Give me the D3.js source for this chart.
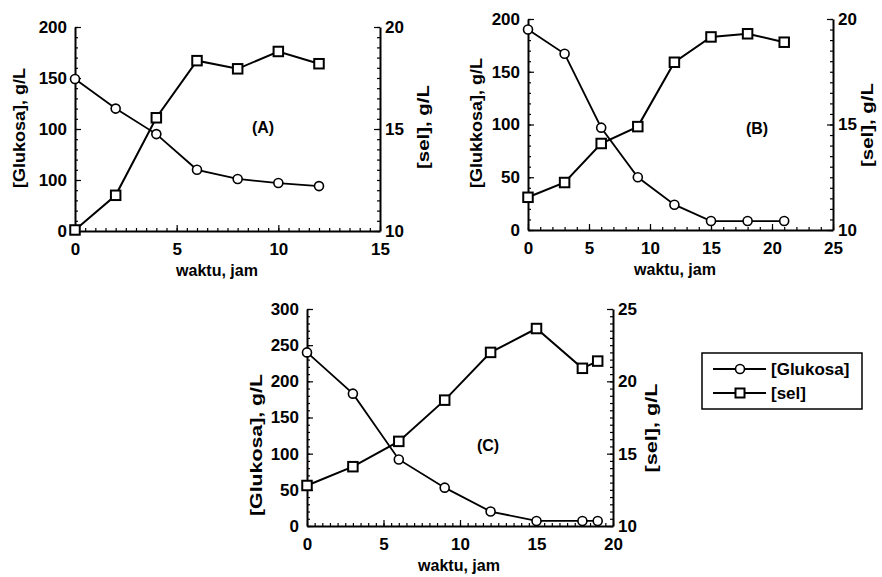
<!DOCTYPE html>
<html><head><meta charset="utf-8">
<script src="https://cdn.jsdelivr.net/npm/d3@7"></script>
<style>
body{margin:0;background:#fff}
svg text{font-family:"Liberation Sans",Arial,sans-serif;font-weight:bold;fill:#000}
</style>
</head><body>
<svg id="chart" width="882" height="577"></svg>
<script>
// ---- Data ----
const timeA = [0, 2, 4, 6, 8, 10, 12];
const glukosaA = [149, 120, 95, 60, 51, 47, 44];
const selA = [10.05, 11.75, 15.55, 18.35, 17.95, 18.8, 18.2];

const timeB = [0, 3, 6, 9, 12, 15, 18, 21];
const glukosaB = [190, 167, 97, 50, 24, 8.5, 8.5, 8.5];
const selB = [11.55, 12.25, 14.1, 14.9, 17.95, 19.15, 19.3, 18.9];

const timeC = [0, 3, 6, 9, 12, 15, 18, 19];
const glukosaC = [240, 183, 92, 53, 20, 7, 7, 7];
const selC = [12.8, 14.1, 15.85, 18.7, 22.0, 23.65, 20.9, 21.4];

// tick values / labels
const xTicksA = [0, 5, 10, 15];
const xTicksB = [0, 5, 10, 15, 20, 25];
const xTicksC = [0, 5, 10, 15, 20];
const yTicksA = [0, 50, 100, 150, 200];
const yTickLabelsA = ["0", "100", "100", "150", "200"];
const yTicksB = [0, 50, 100, 150, 200];
const yTickLabelsB = ["0", "50", "100", "150", "200"];
const yTicksC = [0, 50, 100, 150, 200, 250, 300];
const yTickLabelsC = ["0", "50", "100", "150", "200", "250", "300"];
const y2TicksAB = [10, 15, 20];
const y2TicksC = [10, 15, 20, 25];

const panelLabels = ["(A)", "(B)", "(C)"];
const legendLabels = ["[Glukosa]", "[sel]"];
const xTitle = "waktu, jam";
const yTitles = ["[Glukosa], g/L", "[Glukkosa], g/L", "[Glukosa], g/L"];
const y2Title = "[sel], g/L";

// ---- Layout ----
const panels = [
  {t: timeA, g: glukosaA, s: selA, xDom: [0, 15], yDom: [0, 200], y2Dom: [10, 20],
   xT: xTicksA, xMinor: 0.5, yT: yTicksA, yL: yTickLabelsA, yMinor: 10, y2T: y2TicksAB, y2Minor: 0.5,
   x0: 75, x1: 380, yTop: 27, yBot: 231, label: panelLabels[0], lx: 263, ly: 133,
   xtx: 217, ytitle: yTitles[0], ytX: 25, ytY: 128, ytLen: 120, y2X: 429, y2Y: 127, y2Len: 84},
  {t: timeB, g: glukosaB, s: selB, xDom: [0, 25], yDom: [0, 200], y2Dom: [10, 20],
   xT: xTicksB, xMinor: 1, yT: yTicksB, yL: yTickLabelsB, yMinor: 10, y2T: y2TicksAB, y2Minor: 0.5,
   x0: 528, x1: 833, yTop: 19, yBot: 230, label: panelLabels[1], lx: 757, ly: 134,
   xtx: 675, ytitle: yTitles[1], ytX: 482, ytY: 123, ytLen: 130, y2X: 873, y2Y: 125, y2Len: 84},
  {t: timeC, g: glukosaC, s: selC, xDom: [0, 20], yDom: [0, 300], y2Dom: [10, 25],
   xT: xTicksC, xMinor: 0.5, yT: yTicksC, yL: yTickLabelsC, yMinor: 10, y2T: y2TicksC, y2Minor: 0.5,
   x0: 307, x1: 613, yTop: 309, yBot: 526, label: panelLabels[2], lx: 488, ly: 451,
   xtx: 459, ytitle: yTitles[2], ytX: 262, ytY: 445, ytLen: 142, y2X: 657, y2Y: 428, y2Len: 89}
];

const svg = d3.select("#chart");
const FS = 17;

function minorVals(dom, step) {
  return d3.range(dom[0], dom[1] + step / 2, step);
}

panels.forEach(p => {
  const x = d3.scaleLinear().domain(p.xDom).range([p.x0, p.x1]);
  const y = d3.scaleLinear().domain(p.yDom).range([p.yBot, p.yTop]);
  const y2 = d3.scaleLinear().domain(p.y2Dom).range([p.yBot, p.yTop]);
  const g = svg.append("g");

  // minor ticks
  g.append("g").attr("transform", `translate(0,${p.yBot})`)
    .call(d3.axisBottom(x).tickValues(minorVals(p.xDom, p.xMinor)).tickSizeInner(-3).tickSizeOuter(0).tickFormat(""))
    .call(a => a.select(".domain").remove());
  g.append("g").attr("transform", `translate(${p.x0},0)`)
    .call(d3.axisLeft(y).tickValues(minorVals(p.yDom, p.yMinor)).tickSizeInner(-3).tickSizeOuter(0).tickFormat(""))
    .call(a => a.select(".domain").remove());
  g.append("g").attr("transform", `translate(${p.x1},0)`)
    .call(d3.axisRight(y2).tickValues(minorVals(p.y2Dom, p.y2Minor)).tickSizeInner(-3).tickSizeOuter(0).tickFormat(""))
    .call(a => a.select(".domain").remove());

  // major axes
  g.append("g").attr("transform", `translate(0,${p.yBot})`)
    .call(d3.axisBottom(x).tickValues(p.xT).tickSizeInner(-6).tickSizeOuter(0).tickPadding(12).tickFormat(d3.format("d")));
  g.append("g").attr("transform", `translate(${p.x0},0)`)
    .call(d3.axisLeft(y).tickValues(p.yT).tickSizeInner(-6).tickSizeOuter(0).tickPadding(8)
      .tickFormat((d, i) => p.yL[i]));
  g.append("g").attr("transform", `translate(${p.x1},0)`)
    .call(d3.axisRight(y2).tickValues(p.y2T).tickSizeInner(-6).tickSizeOuter(0).tickPadding(5).tickFormat(d3.format("d")));

  g.selectAll("path.domain").attr("stroke", "#000").attr("stroke-width", 2);
  g.selectAll(".tick line").attr("stroke", "#000").attr("stroke-width", 1.2);
  g.selectAll(".tick text").attr("font-size", FS).attr("font-family", null).attr("fill", "#000");

  // lines
  const lineG = d3.line().x((d, i) => x(p.t[i])).y(d => y(d));
  const lineS = d3.line().x((d, i) => x(p.t[i])).y(d => y2(d));
  g.append("path").datum(p.g).attr("d", lineG).attr("fill", "none").attr("stroke", "#000").attr("stroke-width", 1.8);
  g.selectAll("circle.gl").data(p.g).join("circle").attr("class", "gl")
    .attr("cx", (d, i) => x(p.t[i])).attr("cy", d => y(d)).attr("r", 4.5)
    .attr("fill", "#fff").attr("stroke", "#000").attr("stroke-width", 1.6);
  g.append("path").datum(p.s).attr("d", lineS).attr("fill", "none").attr("stroke", "#000").attr("stroke-width", 2);
  const sq = 9.5;
  g.selectAll("rect.sel").data(p.s).join("rect").attr("class", "sel")
    .attr("x", (d, i) => x(p.t[i]) - sq / 2).attr("y", d => y2(d) - sq / 2)
    .attr("width", sq).attr("height", sq)
    .attr("fill", "#fff").attr("stroke", "#000").attr("stroke-width", 2);

  // texts
  g.append("text").attr("x", p.lx).attr("y", p.ly).attr("text-anchor", "middle")
    .attr("font-size", 16).text(p.label);
  g.append("text").attr("x", p.xtx).attr("y", p.yBot + 45).attr("text-anchor", "middle")
    .attr("font-size", 17).attr("textLength", 82).attr("lengthAdjust", "spacingAndGlyphs").text(xTitle);
  g.append("text").attr("transform", `translate(${p.ytX},${p.ytY}) rotate(-90)`)
    .attr("text-anchor", "middle").attr("font-size", 16)
    .attr("textLength", p.ytLen).attr("lengthAdjust", "spacingAndGlyphs").text(p.ytitle);
  g.append("text").attr("transform", `translate(${p.y2X},${p.y2Y}) rotate(-90)`)
    .attr("text-anchor", "middle").attr("font-size", 16)
    .attr("textLength", p.y2Len).attr("lengthAdjust", "spacingAndGlyphs").text(y2Title);
});

// ---- Legend ----
const lg = svg.append("g");
lg.append("rect").attr("x", 702).attr("y", 353).attr("width", 160).attr("height", 56)
  .attr("fill", "#fff").attr("stroke", "#000").attr("stroke-width", 1.5);
const rows = [369, 393];
legendLabels.forEach((lab, i) => {
  const yy = rows[i];
  lg.append("line").attr("x1", 713).attr("x2", 766).attr("y1", yy).attr("y2", yy)
    .attr("stroke", "#000").attr("stroke-width", 2);
  if (i === 0) {
    lg.append("circle").attr("cx", 740).attr("cy", yy).attr("r", 4.5)
      .attr("fill", "#fff").attr("stroke", "#000").attr("stroke-width", 1.6);
  } else {
    lg.append("rect").attr("x", 740 - 4.5).attr("y", yy - 4.5).attr("width", 9).attr("height", 9)
      .attr("fill", "#fff").attr("stroke", "#000").attr("stroke-width", 2);
  }
  lg.append("text").attr("x", 771).attr("y", yy + 6).attr("font-size", 17).text(lab);
});
</script>
</body></html>
